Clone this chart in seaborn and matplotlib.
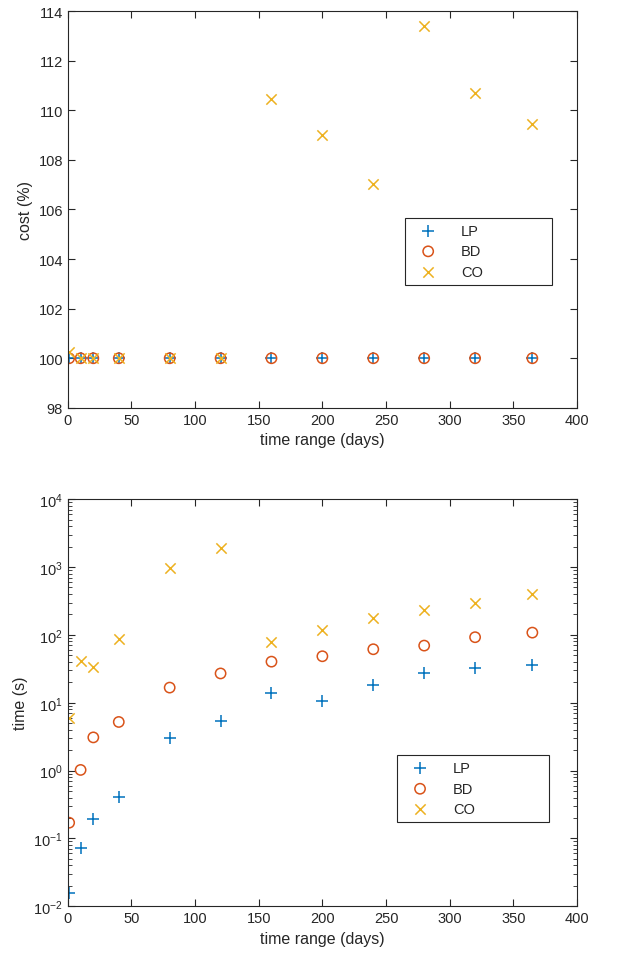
import pandas as pd
import seaborn as sns
import matplotlib.pyplot as plt
from matplotlib.ticker import LogLocator, NullFormatter

# datos
dias = [1, 10, 20, 40, 80, 120, 160, 200, 240, 280, 320, 365]

coste_lp = [100, 100, 100, 100, 100, 100, 100, 100, 100, 100, 100, 100]
coste_bd = [100, 100, 100, 100, 100, 100, 100, 100, 100, 100, 100, 100]
coste_co = [100.27, 100, 100, 100, 100, 100, 110.45, 109.0, 107.03, 113.4, 110.68, 109.45]

tiempo_lp = [0.0157, 0.073, 0.19, 0.41, 2.97, 5.4, 13.9, 10.5, 18.2, 27.4, 32, 36.5]
tiempo_bd = [0.17, 1.02, 3.08, 5.2, 16.7, 27, 40.3, 48.4, 61.4, 69.5, 92.4, 108]
tiempo_co = [6.0, 40.8, 33.3, 87, 977, 1910, 78, 118, 176, 234, 297, 394]

metodos = ['LP', 'BD', 'CO']
colores = {'LP': '#0072BD', 'BD': '#D95319', 'CO': '#EDB120'}
marcadores = {'LP': '+', 'BD': 'o', 'CO': 'x'}
tamanos = {'LP': 80, 'BD': 55, 'CO': 55}

sns.set_style('white')
plt.rcParams['font.family'] = ['Liberation Sans', 'DejaVu Sans']

df_coste = pd.DataFrame({'dias': dias * 3,
                         'valor': coste_lp + coste_bd + coste_co,
                         'metodo': ['LP'] * 12 + ['BD'] * 12 + ['CO'] * 12})
df_tiempo = pd.DataFrame({'dias': dias * 3,
                          'valor': tiempo_lp + tiempo_bd + tiempo_co,
                          'metodo': ['LP'] * 12 + ['BD'] * 12 + ['CO'] * 12})

fig = plt.figure(figsize=(6.17, 9.62), dpi=100)
ax1 = fig.add_axes([0.110, 0.575, 0.825, 0.4125])
ax2 = fig.add_axes([0.110, 0.057, 0.825, 0.423])


def dibujar(ax, df):
    for m in metodos:
        sub = df[df['metodo'] == m]
        if marcadores[m] == 'o':
            sns.scatterplot(data=sub, x='dias', y='valor', ax=ax, marker='o',
                            s=tamanos[m], facecolor='none', edgecolor=colores[m],
                            linewidth=1.1, label=m)
        else:
            sns.scatterplot(data=sub, x='dias', y='valor', ax=ax, marker=marcadores[m],
                            s=tamanos[m], color=colores[m], linewidth=1.1, label=m)


def estilo(ax):
    for sp in ax.spines.values():
        sp.set_color('#262626')
        sp.set_linewidth(0.8)
    ax.tick_params(which='both', direction='in', top=True, right=True,
                   left=True, bottom=True, colors='#262626', labelsize=10.5)
    ax.tick_params(which='major', length=5)
    ax.tick_params(which='minor', length=3)
    ax.set_xlim(0, 400)
    ax.set_xticks(range(0, 401, 50))
    ax.set_xlabel('time range (days)', fontsize=11.5, color='#262626')


def leyenda(ax, caja):
    leg = ax.legend(loc='upper left', bbox_to_anchor=caja, mode='expand',
                    borderaxespad=0, fontsize=10.5, frameon=True, fancybox=False,
                    edgecolor='#262626', framealpha=1, handletextpad=1.05,
                    borderpad=0.4, labelspacing=0.45, handlelength=2.4)
    leg.get_frame().set_linewidth(0.8)


dibujar(ax1, df_coste)
estilo(ax1)
ax1.set_ylim(98, 114)
ax1.set_yticks(range(98, 115, 2))
ax1.set_ylabel('cost (%)', fontsize=11.5, color='#262626')
leyenda(ax1, (0.662, 0.317, 0.289, 0.162))

dibujar(ax2, df_tiempo)
estilo(ax2)
ax2.set_yscale('log')
ax2.set_ylim(1e-2, 1e4)
ax2.yaxis.set_major_locator(LogLocator(base=10, numticks=10))
ax2.yaxis.set_minor_locator(LogLocator(base=10, subs=range(2, 10), numticks=20))
ax2.yaxis.set_minor_formatter(NullFormatter())
ax2.set_ylabel('time (s)', fontsize=11.5, color='#262626')
leyenda(ax2, (0.646, 0.209, 0.299, 0.162))

fig.savefig('out.png', dpi=100)
